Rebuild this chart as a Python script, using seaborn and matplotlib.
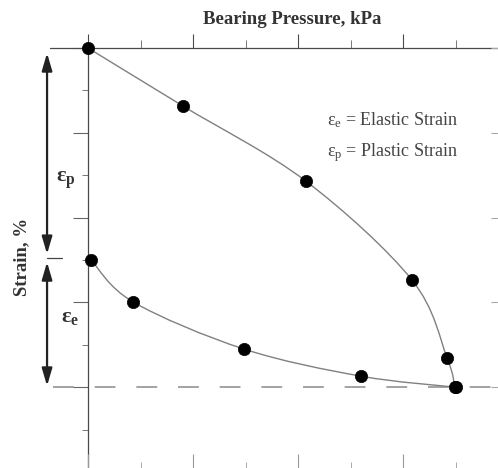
import numpy as np
import pandas as pd
import matplotlib
matplotlib.use("Agg")
import matplotlib.pyplot as plt
from matplotlib.path import Path
from matplotlib.patches import PathPatch
import seaborn as sns

# ---- data (bearing pressure in tick units, strain in tick units; y grows downward)
upper_x = [0.0, 1.81, 4.15, 6.17, 6.84, 6.99]
upper_y = [0.0, 1.37, 3.14, 5.47, 7.31, 8.0]
lower_x = [0.06, 0.86, 2.97, 5.2, 7.0]
lower_y = [5.0, 5.99, 7.10, 7.74, 8.0]
x_major = [0, 2, 4, 6, 8]
x_minor = [1, 3, 5, 7]
y_major = [0, 2, 4, 6, 8]
y_minor = [1, 3, 5, 7, 9]
final_strain = 8.0
split_strain = 5.0
title = "Bearing Pressure, kPa"
ylabel = "Strain, %"
legend_lines = [r"$\mathrm{ε}_\mathrm{e}$ = Elastic Strain",
                r"$\mathrm{ε}_\mathrm{p}$ = Plastic Strain"]

sns.set_theme(style="white")
plt.rcParams["font.family"] = ["Liberation Serif", "DejaVu Serif"]
plt.rcParams["mathtext.fontset"] = "custom"
plt.rcParams["mathtext.rm"] = "Liberation Serif"
plt.rcParams["mathtext.it"] = "Liberation Serif:italic"
plt.rcParams["mathtext.bf"] = "Liberation Serif:bold"

W, H = 498, 468
fig = plt.figure(figsize=(W / 100, H / 100), dpi=100)
fig.patch.set_facecolor("white")
pos = [88 / W, 1 - 472 / H, 420 / W, 424 / H]
ax = fig.add_axes(pos)
ax.set_xlim(0, 8)
ax.set_ylim(10, 0)
ax.set_facecolor("none")

spine_c = "#4a4a4a"
for s in ["right", "bottom"]:
    ax.spines[s].set_visible(False)
for s in ["left", "top"]:
    ax.spines[s].set_color(spine_c)
    ax.spines[s].set_linewidth(0.9)

ax.xaxis.tick_top()
ax.set_xticks(x_major)
ax.set_xticks(x_minor, minor=True)
ax.set_yticks(y_major)
ax.set_yticks(y_minor, minor=True)
ax.set_xticklabels([])
ax.set_yticklabels([])
ax.tick_params(axis="x", which="major", direction="out", length=10, width=0.8, color=spine_c, top=True, bottom=False)
ax.tick_params(axis="x", which="minor", direction="out", length=5.5, width=0.7, color="#777777", top=True, bottom=False)
ax.tick_params(axis="y", which="major", direction="out", length=10.5, width=0.8, color="#666666", left=True, right=False)
ax.tick_params(axis="y", which="minor", direction="out", length=4.5, width=0.7, color="#777777", left=True, right=False)

# second axes for the inward bottom/right ticks
ax2 = fig.add_axes(pos, frameon=False)
ax2.set_xlim(0, 8)
ax2.set_ylim(10, 0)
ax2.set_xticks(x_major)
ax2.set_xticks(x_minor, minor=True)
ax2.set_yticks(y_major)
ax2.set_yticks(y_minor, minor=True)
ax2.set_xticklabels([])
ax2.set_yticklabels([])
ax2.yaxis.tick_right()
ax2.tick_params(axis="x", which="major", direction="in", length=13, width=0.8, color="#999999", bottom=True, top=False)
ax2.tick_params(axis="x", which="minor", direction="in", length=7, width=0.7, color="#aaaaaa", bottom=True, top=False)
ax2.tick_params(axis="y", which="major", direction="in", length=12, width=0.8, color="#aaaaaa", right=True, left=False)
ax2.tick_params(axis="y", which="minor", direction="in", length=0, right=False, left=False)
ax2.patch.set_visible(False)

# top spine extension to the left
ax.plot([-0.72, 0], [0, 0], color=spine_c, lw=0.9, clip_on=False)

# dashed final strain line
lw_d = 1.1
ax.plot([-0.67, 8.5], [final_strain, final_strain], color="#8a8a8a", lw=lw_d,
        dashes=(15 / lw_d, 15 / lw_d), clip_on=False, zorder=1)


def smooth_path(xs, ys):
    p = np.column_stack([xs, ys])
    n = len(p)
    ext = np.vstack([p[0], p, p[-1]])
    verts = [tuple(p[0])]
    codes = [Path.MOVETO]
    for i in range(n - 1):
        p0, p1, p2, p3 = ext[i], ext[i + 1], ext[i + 2], ext[i + 3]
        c1 = p1 + (p2 - p0) / 6.0
        c2 = p2 - (p3 - p1) / 6.0
        verts += [tuple(c1), tuple(c2), tuple(p2)]
        codes += [Path.CURVE4] * 3
    return Path(verts, codes)


for xs, ys in [(upper_x, upper_y), (lower_x, lower_y)]:
    ax.add_patch(PathPatch(smooth_path(xs, ys), facecolor="none", edgecolor="#808080", lw=1.0, zorder=2))

pts = pd.DataFrame({"x": upper_x + lower_x, "y": upper_y + lower_y})
sns.scatterplot(data=pts, x="x", y="y", ax=ax, s=78, color="black", edgecolor="black",
                linewidth=0.5, zorder=5, clip_on=False, legend=False)
ax.set_xlabel("")
ax.set_ylabel("")

# arrows
ax_x = -0.78
arrow_kw = dict(arrowstyle="<|-|>,head_length=0.75,head_width=0.22", lw=1.6, color="#222222",
                shrinkA=0, shrinkB=0, mutation_scale=14)
ax.annotate("", xy=(ax_x, 0.12), xytext=(ax_x, split_strain - 0.14), arrowprops=arrow_kw, annotation_clip=False)
ax.annotate("", xy=(ax_x, split_strain + 0.05), xytext=(ax_x, final_strain - 0.03), arrowprops=arrow_kw, annotation_clip=False)
ax.plot([ax_x, -0.5], [split_strain - 0.05, split_strain - 0.05], color="#444444", lw=0.9, clip_on=False)

ax.text(-0.42, 3.11, r"$\mathbf{ε}_\mathbf{p}$", fontsize=16, ha="center", va="center", color="#333333")
ax.text(-0.34, 6.35, r"$\mathbf{ε}_\mathbf{e}$", fontsize=16, ha="center", va="center", color="#333333")

for i, t in enumerate(legend_lines):
    fig.text(327 / W, 1 - (120 + 33 * i) / H, t, fontsize=13, ha="left", va="center", color="#444444")

fig.text(292 / W, 1 - 19 / H, title, fontsize=13.5, fontweight="bold", ha="center", va="center", color="#333333")
fig.text(22 / W, 1 - 257 / H, ylabel, fontsize=13.5, fontweight="bold", rotation=90, ha="center", va="center", color="#333333")

fig.savefig("out.png", dpi=100, facecolor="white")
